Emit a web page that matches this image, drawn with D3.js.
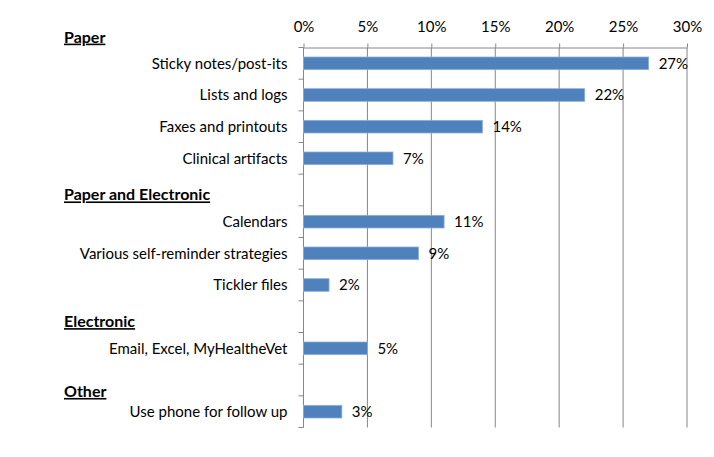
<!DOCTYPE html>
<html>
<head>
<meta charset="utf-8">
<script src="https://cdn.jsdelivr.net/npm/d3@7"></script>
<style>
  html, body { margin: 0; padding: 0; background: #fff; }
  svg text { font-family: Lato, "Open Sans", sans-serif; fill: #000; }
</style>
</head>
<body>
<svg id="chart" width="714" height="457"></svg>
<script>
// Row categories (blank rows separate the groups)
const categories = [
  "Sticky notes/post-its",
  "Lists and logs",
  "Faxes and printouts",
  "Clinical artifacts",
  "",
  "Calendars",
  "Various self-reminder strategies",
  "Tickler files",
  " ",
  "Email, Excel, MyHealtheVet",
  "  ",
  "Use phone for follow up"
];
const values = [27, 22, 14, 7, null, 11, 9, 2, null, 5, null, 3];
const tickValues = [0, 5, 10, 15, 20, 25, 30];
const groupHeaders = ["Paper", "Paper and Electronic", "Electronic", "Other"];
// header sits above the row index given
const groupHeaderRows = [0, 5, 9, 11];

const svg = d3.select("#chart");
const margin = { top: 47.5, left: 303.5, right: 27, bottom: 29.5 };
const W = 714, H = 457;
const headerOffsets = [-10.5, -11, -11, -4.5];

const x = d3.scaleLinear().domain([0, 30]).range([margin.left, W - margin.right]);
const y = d3.scaleBand().domain(categories).range([margin.top, H - margin.bottom]).paddingInner(0.6).paddingOuter(0.3);
const yRow = d3.scaleBand().domain(categories).range([margin.top, H - margin.bottom]);

const axisColor = "#868686";

// gridlines
svg.append("g").selectAll("line").data(tickValues.slice(1)).join("line")
  .attr("x1", d => x(d)).attr("x2", d => x(d))
  .attr("y1", margin.top).attr("y2", H - margin.bottom)
  .attr("stroke", axisColor).attr("stroke-width", 1);

// top axis
const xAxis = d3.axisTop(x).tickValues(tickValues).tickFormat(d => d + "%").tickSize(4).tickSizeOuter(0);
const gx = svg.append("g").attr("transform", `translate(0,${margin.top})`).call(xAxis);
gx.select(".domain").attr("stroke", axisColor);
gx.selectAll(".tick line").attr("stroke", axisColor);
gx.selectAll(".tick text").attr("font-size", "15px").attr("dy", "-0.35em")
  .style("font-family", "Lato, 'Open Sans', sans-serif");
gx.selectAll(".tick text").attr("y", -10);

// left axis with ticks at row boundaries
const boundaries = d3.range(categories.length + 1).map(i => i === categories.length ? H - margin.bottom : yRow(categories[i]));
svg.append("line").attr("x1", margin.left).attr("x2", margin.left)
  .attr("y1", margin.top).attr("y2", H - margin.bottom).attr("stroke", axisColor);
svg.append("g").selectAll("line").data(boundaries).join("line")
  .attr("x1", margin.left - 5).attr("x2", margin.left)
  .attr("y1", d => d).attr("y2", d => d).attr("stroke", axisColor);

// category labels
svg.append("g").selectAll("text").data(categories).join("text")
  .attr("x", margin.left - 16)
  .attr("y", d => yRow(d) + yRow.bandwidth() / 2)
  .attr("dy", "0.35em")
  .attr("text-anchor", "end")
  .attr("font-size", "15px")
  .text(d => d.trim());

// bars
const data = categories.map((c, i) => ({ c, v: values[i] })).filter(d => d.v !== null);
svg.append("g").selectAll("rect").data(data).join("rect")
  .attr("x", x(0))
  .attr("y", d => y(d.c))
  .attr("width", d => x(d.v) - x(0))
  .attr("height", y.bandwidth())
  .attr("fill", "#4F81BD")
  .attr("stroke", "#8FB0DA")
  .attr("stroke-width", 0.8);

// value labels
svg.append("g").selectAll("text").data(data).join("text")
  .attr("x", d => x(d.v) + 10)
  .attr("y", d => y(d.c) + y.bandwidth() / 2)
  .attr("dy", "0.35em")
  .attr("font-size", "15px")
  .text(d => d.v + "%");

// group headers
const headerG = svg.append("g");
groupHeaders.forEach((h, i) => {
  const r = groupHeaderRows[i];
  const yy = yRow(categories[r]) + headerOffsets[i];
  headerG.append("text")
    .attr("x", 64)
    .attr("y", yy)
    .attr("dy", "0.35em")
    .attr("font-size", "16px")
    .attr("font-weight", "bold")
    .attr("text-decoration", "underline")
    .text(h);
});
</script>
</body>
</html>
